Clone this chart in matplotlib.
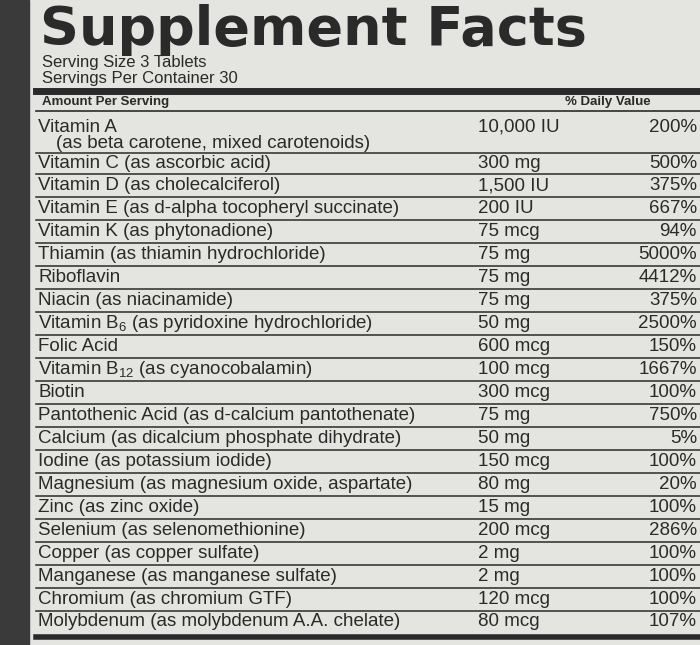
import matplotlib.pyplot as plt
from matplotlib.patches import Rectangle

plt.rcParams['font.family'] = ['Liberation Sans', 'DejaVu Sans']
plt.rcParams['mathtext.fontset'] = 'custom'
plt.rcParams['mathtext.rm'] = 'Liberation Sans'
plt.rcParams['mathtext.it'] = 'Liberation Sans'

# label rows
nutrients = ["Vitamin A", "Vitamin C (as ascorbic acid)", "Vitamin D (as cholecalciferol)",
             "Vitamin E (as d-alpha tocopheryl succinate)", "Vitamin K (as phytonadione)",
             "Thiamin (as thiamin hydrochloride)", "Riboflavin", "Niacin (as niacinamide)",
             r"Vitamin B$_6$ (as pyridoxine hydrochloride)", "Folic Acid",
             r"Vitamin B$_{12}$ (as cyanocobalamin)", "Biotin",
             "Pantothenic Acid (as d-calcium pantothenate)",
             "Calcium (as dicalcium phosphate dihydrate)", "Iodine (as potassium iodide)",
             "Magnesium (as magnesium oxide, aspartate)", "Zinc (as zinc oxide)",
             "Selenium (as selenomethionine)", "Copper (as copper sulfate)",
             "Manganese (as manganese sulfate)", "Chromium (as chromium GTF)",
             "Molybdenum (as molybdenum A.A. chelate)"]
amounts = ["10,000 IU", "300 mg", "1,500 IU", "200 IU", "75 mcg", "75 mg", "75 mg", "75 mg",
           "50 mg", "600 mcg", "100 mcg", "300 mcg", "75 mg", "50 mg", "150 mcg", "80 mg",
           "15 mg", "200 mcg", "2 mg", "2 mg", "120 mcg", "80 mcg"]
daily_value = ["200%", "500%", "375%", "667%", "94%", "5000%", "4412%", "375%", "2500%",
               "150%", "1667%", "100%", "750%", "5%", "100%", "20%", "100%", "286%",
               "100%", "100%", "100%", "107%"]

fig = plt.figure(figsize=(7, 6.45), dpi=100)
fig.patch.set_facecolor('#e4e4e0')
ax = fig.add_axes([0, 0, 1, 1])
ax.set_xlim(0, 700)
ax.set_ylim(645, 0)
ax.axis('off')

ink = '#2a2a2a'
# dark border at left
ax.add_patch(Rectangle((0, 0), 29, 645, color='#3a3a3a', zorder=0))

ax.text(40, 45, "Supplement Facts", fontsize=39, fontweight='heavy', family='DejaVu Sans',
        color=ink, va='baseline', ha='left')
ax.text(42, 63, "Serving Size 3 Tablets", fontsize=12, color=ink, va='center')
ax.text(42, 79, "Servings Per Container 30", fontsize=12, color=ink, va='center')
ax.plot([36, 700], [91, 91], color=ink, lw=5)
ax.text(42, 102, "Amount Per Serving", fontsize=9.5, fontweight='bold', color=ink, va='center')
ax.text(565, 102, "% Daily Value", fontsize=9.5, fontweight='bold', color=ink, va='center')
ax.plot([36, 700], [111, 111], color=ink, lw=1.2)

y0 = 127
step = 22.95
fs = 13.5
for i, (n, a, d) in enumerate(zip(nutrients, amounts, daily_value)):
    y = y0 if i == 0 else 163 + (i - 1) * step
    ax.text(38, y, n, fontsize=fs, color=ink, va='center')
    ax.text(478, y, a, fontsize=fs, color=ink, va='center')
    ax.text(697, y, d, fontsize=fs, color=ink, va='center', ha='right')
    if i == 0:
        ax.text(56, 144, "(as beta carotene, mixed carotenoids)", fontsize=fs, color=ink, va='center')
        ax.plot([36, 700], [153, 153], color=ink, lw=1.1)
    elif i < len(nutrients) - 1:
        ax.plot([36, 700], [y + step / 2, y + step / 2], color=ink, lw=1.1)
ax.plot([36, 700], [637, 637], color=ink, lw=4)

fig.savefig('out.png', dpi=100, facecolor=fig.get_facecolor())
